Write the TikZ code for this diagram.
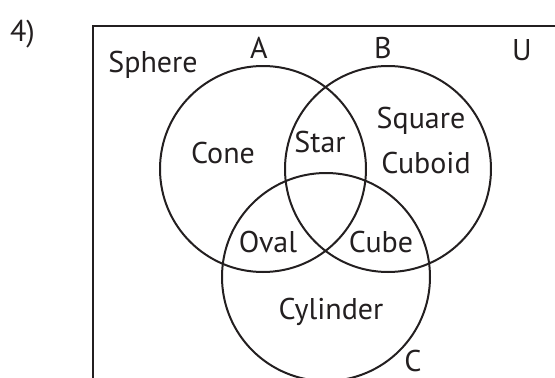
\documentclass[tikz,border=0pt]{standalone}
\usepackage{fontspec}
\setmainfont{PT Sans}
\definecolor{ink}{HTML}{231F20}
\begin{document}
\begin{tikzpicture}[x=1pt,y=-1pt,
  lab/.style={font=\fontsize{30}{36}\selectfont, text=ink, anchor=base, inner sep=0pt},
  setc/.style={draw=ink, line width=2pt, circle, inner sep=0pt},
  frame/.style={draw=ink, line width=2.3pt}]
\useasboundingbox (0,0) rectangle (555,378);
\clip (0,0) rectangle (555,378);
\coordinate (bl) at (93,385);
\coordinate (tl) at (93,26);
\coordinate (tr) at (565,26);
\draw[frame] (bl) -- (tl) -- (tr);
\node[setc, minimum size=206pt] (cA) at (263,169) {};
\node[setc, minimum size=206pt] (cB) at (388,169) {};
\node[setc, minimum size=208pt] (cC) at (326,277) {};
\node[lab] (num) at (22.5,41) {4)};
\node[lab] (sphere) at (153,72) {Sphere};
\node[lab] (la) at (259,58) {A};
\node[lab] (lb) at (383,58) {B};
\node[lab] (lu) at (522,60) {U};
\node[lab] (lc) at (413,371) {C};
\node[lab] (cone) at (223,163) {Cone};
\node[lab] (star) at (320,152) {Star};
\node[lab] (square) at (421,128) {Square};
\node[lab] (cuboid) at (426,173) {Cuboid};
\node[lab] (oval) at (268,252) {Oval};
\node[lab] (cube) at (381,252) {Cube};
\node[lab] (cyl) at (331,319) {Cylinder};
\end{tikzpicture}
\end{document}
